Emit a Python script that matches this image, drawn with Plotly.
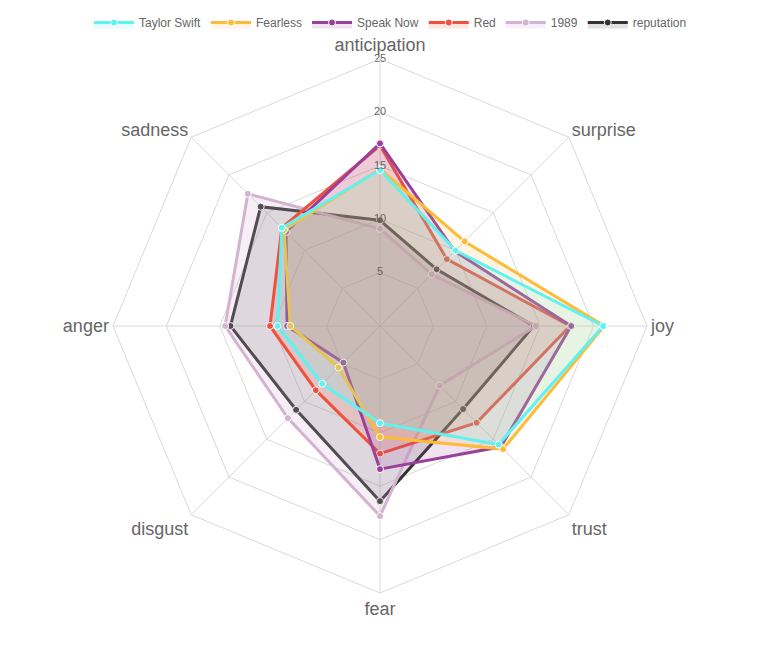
import plotly.graph_objects as go

# Emotion categories (clockwise from the top)
emotions = ["anticipation", "surprise", "joy", "trust", "fear", "disgust", "anger", "sadness"]

# Album names, legend order
albums = ["Taylor Swift", "Fearless", "Speak Now", "Red", "1989", "reputation"]

# Values, one list per album (same order as emotions)
taylor_swift = [14.6, 10.0, 20.9, 15.7, 9.1, 7.65, 9.6, 13.0]
fearless = [14.7, 11.2, 21.0, 16.3, 10.4, 5.5, 8.4, 12.7]
speak_now = [17.1, 9.9, 17.9, 16.0, 13.4, 4.85, 8.7, 12.45]
red = [16.9, 8.85, 17.8, 12.8, 11.95, 8.5, 10.3, 13.0]
album_1989 = [9.1, 6.85, 14.6, 7.9, 17.8, 12.2, 14.5, 17.5]
reputation = [9.9, 7.5, 14.4, 11.0, 16.4, 11.1, 14.0, 15.8]

series = [taylor_swift, fearless, speak_now, red, album_1989, reputation]

# radial ticks
radial_ticks = [5, 10, 15, 20, 25]

# Line colours and matching translucent fills
line_colors = ["#5ef2f2", "#fdbb3a", "#9a3f9a", "#f0503c", "#d3b3d0", "#333333"]
fill_colors = [
    "rgba(94,242,242,0.15)",
    "rgba(253,187,58,0.15)",
    "rgba(154,63,154,0.15)",
    "rgba(240,80,60,0.15)",
    "rgba(211,179,208,0.2)",
    "rgba(51,51,51,0.15)",
]

fig = go.Figure()

# first dataset ends up on top, so add them in reverse
for i in reversed(range(len(albums))):
    vals = series[i] + [series[i][0]]
    cats = emotions + [emotions[0]]
    fig.add_trace(go.Scatterpolar(
        r=vals,
        theta=cats,
        name=albums[i],
        mode="lines+markers",
        fill="toself",
        fillcolor=fill_colors[i],
        line=dict(color=line_colors[i], width=3),
        marker=dict(size=7, color=line_colors[i], line=dict(color="white", width=1)),
        legendrank=i + 1,
    ))

# tick labels centred on the anticipation spoke, like the original
fig.add_trace(go.Scatterpolar(
    r=radial_ticks,
    theta=[emotions[0]] * len(radial_ticks),
    mode="text",
    text=[str(t) for t in radial_ticks],
    textposition="middle center",
    textfont=dict(size=11, color="#666666"),
    showlegend=False,
    hoverinfo="skip",
))

grid_color = "#d9d9d9"

fig.update_layout(
    width=765,
    height=645,
    margin=dict(l=0, r=0, t=0, b=0, autoexpand=False),
    paper_bgcolor="white",
    font=dict(family="Liberation Sans, Arial, sans-serif", color="#666666"),
    showlegend=True,
    legend=dict(
        orientation="h",
        x=0.5,
        xanchor="center",
        y=1.0,
        yanchor="top",
        bgcolor="rgba(0,0,0,0)",
        font=dict(size=12, color="#666666"),
        itemwidth=40,
    ),
    polar=dict(
        domain=dict(x=[105 / 765, 639 / 765], y=[60 / 645, 594 / 645]),
        bgcolor="white",
        gridshape="linear",
        radialaxis=dict(
            range=[0, 25],
            tickvals=radial_ticks,
            angle=90,
            showline=False,
            showticklabels=False,
            gridcolor=grid_color,
            ticks="",
        ),
        angularaxis=dict(
            rotation=90,
            direction="clockwise",
            categoryorder="array",
            categoryarray=emotions,
            gridcolor=grid_color,
            linecolor=grid_color,
            ticks="",
            tickfont=dict(size=18, color="#666666"),
        ),
    ),
)

fig.write_html("out.html")
